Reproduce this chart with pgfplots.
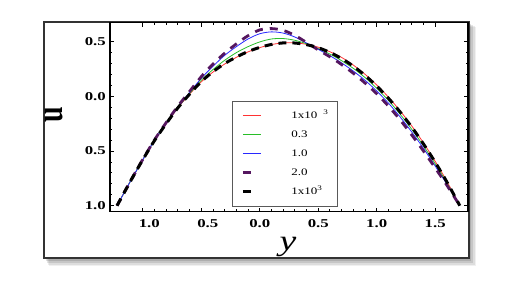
\documentclass[border=0pt]{standalone}
\usepackage{pgfplots}
\pgfplotsset{compat=1.18}
\usepackage{pgfplotstable}
\usepackage{graphicx}
\usepackage{fontspec}
\setmainfont{Liberation Serif}
\newfontfamily\wide[FakeStretch=1.3]{Liberation Serif}
\newfontfamily\widetick[FakeStretch=1.4]{Liberation Serif}

\definecolor{cred}{RGB}{255,50,50}
\definecolor{cgreen}{RGB}{40,190,40}
\definecolor{cblue}{RGB}{40,40,255}
\definecolor{cpurple}{RGB}{85,22,95}

\pgfdeclarelayer{background}
\pgfsetlayers{background,main}

\pgfplotsset{
  redleg/.style={legend image code/.code={\draw[draw=cred, line width=1.1pt] (0pt,0pt) -- (18pt,0pt);}},
  greenleg/.style={legend image code/.code={\draw[draw=cgreen, line width=1.1pt] (0pt,0pt) -- (18pt,0pt);}},
  blueleg/.style={legend image code/.code={\draw[draw=cblue, line width=1.1pt] (0pt,0pt) -- (18pt,0pt);}},
  purpleleg/.style={legend image code/.code={\draw[draw=cpurple, line width=2.8pt] (0pt,0pt) -- (9pt,0pt);}},
  blackleg/.style={legend image code/.code={\draw[draw=black, line width=3pt] (0pt,0pt) -- (9pt,0pt);}},
}

\pgfplotstableread{
x      red     green   blue    purple  black
-1.22 -1.000 -1.000 -1.000 -1.000 -1.000
-1.10 -0.766 -0.766 -0.766 -0.766 -0.766
-1.00 -0.580 -0.580 -0.580 -0.577 -0.580
-0.90 -0.405 -0.404 -0.402 -0.399 -0.405
-0.80 -0.250 -0.248 -0.245 -0.240 -0.250
-0.70 -0.105 -0.102 -0.097 -0.090 -0.105
-0.60 0.020 0.025 0.035 0.045 0.020
-0.50 0.133 0.147 0.165 0.180 0.135
-0.40 0.222 0.245 0.275 0.295 0.225
-0.30 0.296 0.330 0.375 0.395 0.300
-0.20 0.357 0.400 0.455 0.480 0.360
-0.10 0.407 0.455 0.525 0.555 0.410
0.00 0.446 0.498 0.573 0.608 0.448
0.10 0.474 0.525 0.590 0.620 0.475
0.20 0.489 0.529 0.579 0.604 0.489
0.30 0.490 0.513 0.543 0.558 0.488
0.40 0.476 0.481 0.488 0.493 0.473
0.50 0.450 0.437 0.430 0.425 0.445
0.60 0.408 0.387 0.372 0.362 0.402
0.70 0.356 0.326 0.306 0.291 0.346
0.80 0.286 0.256 0.231 0.211 0.276
0.90 0.202 0.172 0.147 0.122 0.192
1.00 0.104 0.074 0.049 0.024 0.094
1.10 -0.007 -0.037 -0.062 -0.089 -0.017
1.20 -0.133 -0.163 -0.188 -0.215 -0.143
1.30 -0.272 -0.302 -0.327 -0.354 -0.282
1.40 -0.427 -0.454 -0.476 -0.501 -0.436
1.50 -0.595 -0.617 -0.638 -0.655 -0.603
1.60 -0.778 -0.792 -0.804 -0.814 -0.784
1.71 -1.000 -1.000 -1.000 -1.000 -1.000
}\datatable

\begin{document}
\begin{tikzpicture}
\begin{axis}[
  scale only axis, width=358pt, height=189pt,
  xmin=-1.28, xmax=1.78, ymin=-1.055, ymax=0.674,
  axis line style={line width=1.2pt, black},
  xtick={-1,-0.5,0,0.5,1,1.5},
  xticklabels={\hspace*{13pt}1.0,\hspace*{13pt}0.5,0.0,0.5,1.0,1.5},
  ytick={-1,-0.5,0,0.5},
  yticklabels={1.0,0.5,0.0,0.5},
  minor x tick num=4, minor y tick num=4,
  tick align=inside, major tick length=4pt, minor tick length=2.5pt,
  tick style={black, line width=0.9pt},
  ticklabel style={font=\widetick\bfseries\fontsize{12}{12}\selectfont, inner sep=0pt},
  xticklabel shift=8pt, yticklabel shift=4pt,
  legend style={at={(0.341,0.586)}, anchor=north west,
    draw=black!65, line width=0.6pt, fill=white,
    inner xsep=9pt, inner ysep=10pt, row sep=10pt,
    font=\wide\fontsize{10}{10}\selectfont,
    nodes={inner sep=0pt, text height=7pt, text depth=2pt}},
  legend cell align=left,
]
\coordinate (O) at (rel axis cs:0,0);
\addplot[cred, line width=0.8pt, smooth, redleg] table[x=x, y=red] {\datatable};
\addlegendentry{\hspace*{30pt}1x10\textsuperscript{\hspace*{6pt}3}}
\addplot[cgreen, line width=0.8pt, smooth, greenleg] table[x=x, y=green] {\datatable};
\addlegendentry{\hspace*{30pt}0.3}
\addplot[cblue, line width=0.8pt, smooth, blueleg] table[x=x, y=blue] {\datatable};
\addlegendentry{\hspace*{30pt}1.0}
\addplot[cpurple, line width=2.8pt, smooth, dash pattern=on 8pt off 7pt, purpleleg] table[x=x, y=purple] {\datatable};
\addlegendentry{\hspace*{30pt}2.0}
\addplot[black, line width=3pt, smooth, dash pattern=on 8pt off 6pt, blackleg] table[x=x, y=black] {\datatable};
\addlegendentry{\hspace*{30pt}1x10\textsuperscript{3}}
\end{axis}

\begin{scope}[shift={(O)}, xshift=-110pt, yshift=-69.3pt, x=1pt, y=1pt]
\begin{pgfonlayer}{background}
\path (0,0) rectangle (528,281);
\fill[black,opacity=0.06] (49,15) rectangle (476,254);
\fill[black,opacity=0.08] (48,16) rectangle (475,255);
\fill[black,opacity=0.10] (47,18) rectangle (473,256);
\fill[black,opacity=0.12] (46,20) rectangle (471,257);
\fill[white] (44,23) rectangle (469,259);
\draw[line width=1.3pt, black!80] (44,23) rectangle (469,259);
\end{pgfonlayer}
\node[inner sep=0pt] at (54,166) {\rotatebox{90}{\scalebox{1}[1.35]{\fontsize{28}{28}\selectfont\bfseries u}}};
\node[anchor=base, inner sep=0pt] at (288,30.7) {\wide\itshape\fontsize{29}{29}\selectfont y};
\end{scope}
\end{tikzpicture}
\end{document}
